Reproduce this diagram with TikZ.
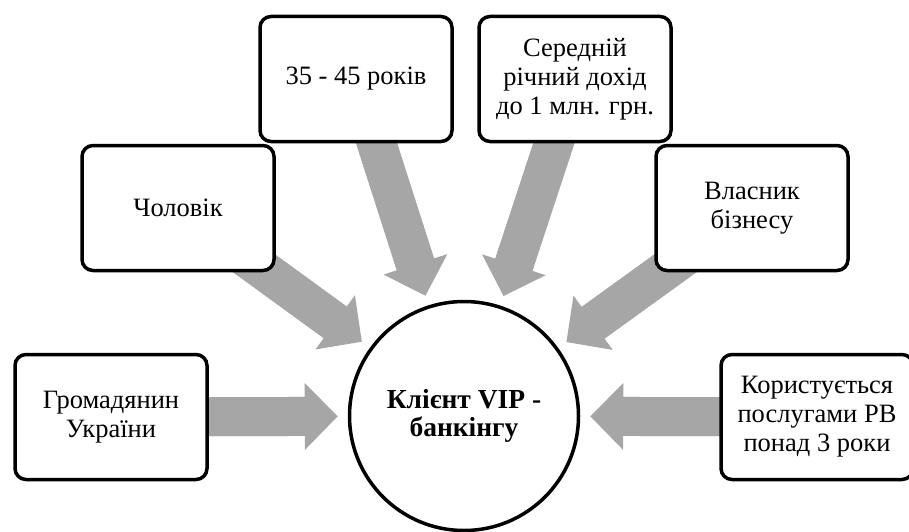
\documentclass[tikz,border=0pt]{standalone}
\usepackage{fontspec}
\setmainfont{Liberation Serif}
\usetikzlibrary{arrows.meta,backgrounds}
\definecolor{arrowgray}{RGB}{166,166,166}
\begin{document}
	\begin{tikzpicture}[x=1pt,y=-1pt,
		box/.style={draw,line width=3.5pt,rounded corners=11pt,fill=white,align=center,
			minimum width=192pt,minimum height=125pt,inner sep=0pt,
			font=\fontsize{26.5}{29}\selectfont},
		flow/.style={draw=arrowgray,line width=39pt,shorten >=10pt,
			-{Triangle[length=33pt,width=65pt]},
			preaction={draw=arrowgray,line width=39pt,-,shorten >=30pt}}]
		\useasboundingbox (0,0) rectangle (909,532);
		% centre
		\node[circle,draw,line width=3.5pt,fill=white,minimum size=229pt,align=center,
			font=\fontsize{27.5}{28}\selectfont\bfseries] (client) at (464,416) {Клієнт VIP -\\банкінгу};
		% features
		\node[box] (citizen) at (111,417) {Громадянин\\України};
		\node[box] (man) at (178,208) {Чоловік};
		\node[box] (age) at (356,79) {35 - 45 років};
		\node[box] (income) at (575,79) {Середній\\річний дохід\\до 1 млн. грн.};
		\node[box] (owner) at (752,208) {Власник\\бізнесу};
		\node[box] (user) at (817,417) {Користується\\послугами РВ\\понад 3 роки};
		\begin{scope}[on background layer]
			\draw[flow] (citizen.center) -- (client);
			\draw[flow] (man.center) -- (client);
			\draw[flow] (age.center) -- (client);
			\draw[flow] (income.center) -- (client);
			\draw[flow] (owner.center) -- (client);
			\draw[flow] (user.center) -- (client);
		\end{scope}
	\end{tikzpicture}
\end{document}
